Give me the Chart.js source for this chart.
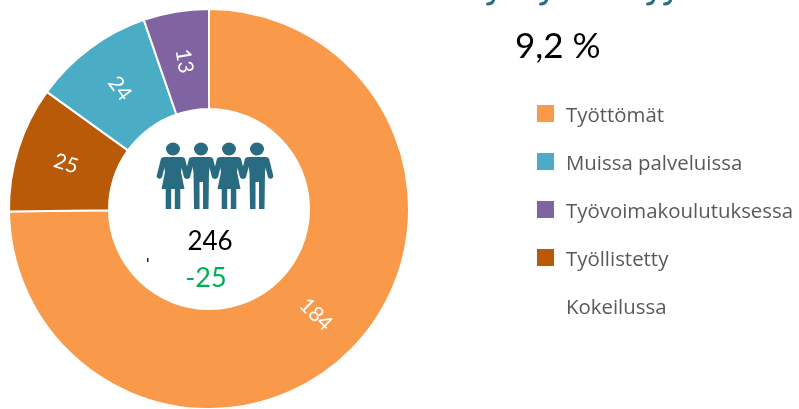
<!DOCTYPE html>
<html>
<head>
<meta charset="utf-8">
<script src="https://cdn.jsdelivr.net/npm/chart.js@4"></script>
<style>
  html, body { margin: 0; padding: 0; background: #fff; overflow: hidden; }
  #wrap { position: relative; width: 799px; height: 409px; overflow: hidden; }
  #donut, #overlay { position: absolute; left: 0; top: 0; }
  .legendText { font-family: "Open Sans", sans-serif; font-size: 20.4px; fill: #595959; }
  .bigText { font-family: Lato, sans-serif; fill: #000; }
</style>
</head>
<body>
<div id="wrap">
  <canvas id="donut" width="799" height="413"></canvas>
  <svg id="overlay" width="799" height="409" xmlns="http://www.w3.org/2000/svg">
    <defs>
      <g id="woman">
        <ellipse cx="0" cy="149" rx="7" ry="6.5"/>
        <path d="M-8 157 L8 157 Q10 157 10 160 L8 172 L11.5 189 L7.3 189 L7.3 209 L1.8 209 L1.8 189 L-1.8 189 L-1.8 209 L-7.3 209 L-7.3 189 L-11.5 189 L-8 172 L-10 160 Q-10 157 -8 157 Z"/>
        <path d="M-9.5 160 L-13.5 176 M9.5 160 L13.5 176" stroke="#296B80" stroke-width="5.5" stroke-linecap="round" fill="none"/>
      </g>
      <g id="man">
        <ellipse cx="0" cy="149" rx="7" ry="6.5"/>
        <path d="M-8 157 L8 157 Q10 157 10 160 L8 172 L7.5 209 L2 209 L2 182 L-1.5 182 L-1.5 209 L-7 209 L-7.5 172 L-10 160 Q-10 157 -8 157 Z"/>
        <path d="M-9.5 160 L-13.5 176 M9.5 160 L13.5 176" stroke="#296B80" stroke-width="5.5" stroke-linecap="round" fill="none"/>
      </g>
    </defs>
    <g fill="#296B80">
      <use href="#woman" x="173"/>
      <use href="#man" x="201"/>
      <use href="#woman" x="229"/>
      <use href="#man" x="257"/>
    </g>
    <g id="legend"></g>
    <text class="bigText" x="515" y="58" font-size="35">9,2 %</text>
    <text class="bigText" x="210" y="250" font-size="26" text-anchor="middle">246</text>
    <text class="bigText" x="206" y="287" font-size="27" text-anchor="middle" style="fill:#00B050">-25</text>
    <rect x="147" y="258" width="1.5" height="4" fill="#222"/>
    <!-- otsikko on leikkautunut kuvan ylareunaan, vain hannat nakyy -->
    <g fill="none" stroke="#2A6F82" stroke-width="3" stroke-linecap="round">
      <path d="M494 -1 Q493 4 487.5 4"/>
      <path d="M547 -1 Q546 4 540.5 4"/>
      <path d="M654 -1 Q653 4 647.5 4"/>
      <path d="M671 -1 Q670 4 664.5 4"/>
    </g>
  </svg>
</div>
<script>
const categories = ['Työttömät', 'Työllistetty', 'Muissa palveluissa', 'Työvoimakoulutuksessa'];
const values = [184, 25, 24, 13];
const sliceColors = ['#F9994A', '#B85A07', '#4BACC6', '#8064A2'];

const legendLabels = ['Työttömät', 'Muissa palveluissa', 'Työvoimakoulutuksessa', 'Työllistetty', 'Kokeilussa'];
const legendColors = ['#F9994A', '#4BACC6', '#8064A2', '#B85A07', '#FFFFFF'];

// legend rows on the right
const legendGroup = document.getElementById('legend');
const svgNs = 'http://www.w3.org/2000/svg';
legendLabels.forEach((label, i) => {
  const box = document.createElementNS(svgNs, 'rect');
  box.setAttribute('x', 537);
  box.setAttribute('y', 105 + i * 48);
  box.setAttribute('width', 17);
  box.setAttribute('height', 17);
  box.setAttribute('fill', legendColors[i]);
  legendGroup.appendChild(box);
  const txt = document.createElementNS(svgNs, 'text');
  txt.setAttribute('class', 'legendText');
  txt.setAttribute('x', 566);
  txt.setAttribute('y', 122 + i * 48);
  txt.textContent = label;
  legendGroup.appendChild(txt);
});

// white value labels, turned along the slice
const sliceLabels = {
  id: 'sliceLabels',
  afterDatasetsDraw(chart) {
    const ctx = chart.ctx;
    chart.getDatasetMeta(0).data.forEach((arc, i) => {
      const p = arc.getCenterPoint();
      const mid = (arc.startAngle + arc.endAngle) / 2;
      let rot = mid + Math.PI;
      while (rot > Math.PI / 2) rot -= Math.PI;
      while (rot < -Math.PI / 2) rot += Math.PI;
      ctx.save();
      ctx.translate(p.x, p.y);
      ctx.rotate(rot);
      ctx.font = '21px Lato, sans-serif';
      ctx.fillStyle = '#fff';
      ctx.textAlign = 'center';
      ctx.textBaseline = 'middle';
      ctx.fillText(String(values[i]), 0, 0);
      ctx.restore();
    });
  }
};

new Chart(document.getElementById('donut').getContext('2d'), {
  type: 'doughnut',
  data: {
    labels: categories,
    datasets: [{
      data: values,
      backgroundColor: sliceColors,
      borderColor: '#fff',
      borderWidth: 2
    }]
  },
  options: {
    responsive: false,
    animation: false,
    cutout: '50%',
    layout: { padding: { left: 8, right: 389, top: 8, bottom: 3 } },
    plugins: { legend: { display: false }, tooltip: { enabled: false } }
  },
  plugins: [sliceLabels]
});
</script>
</body>
</html>
